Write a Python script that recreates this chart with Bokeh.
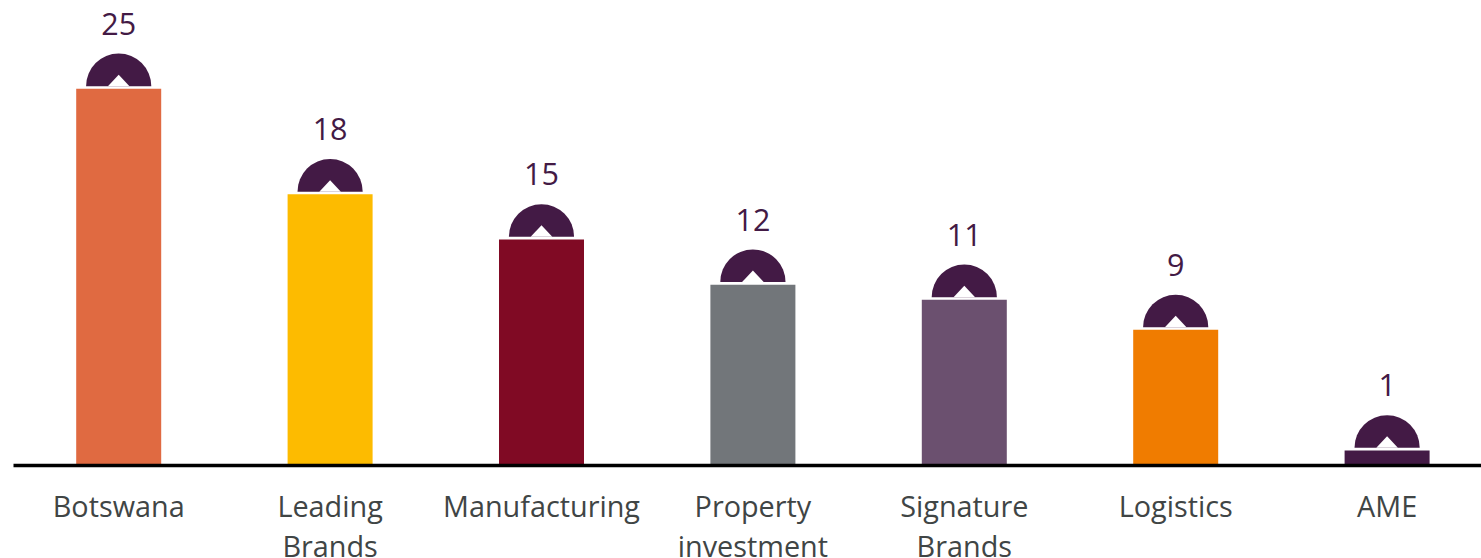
from bokeh.core.properties import value
from bokeh.embed import file_html
from bokeh.models import ColumnDataSource, Range1d
from bokeh.plotting import figure
from bokeh.resources import INLINE
import math

categories = ["Botswana", "Leading\nBrands", "Manufacturing", "Property\ninvestment",
              "Signature\nBrands", "Logistics", "AME"]
values = [25, 18, 15, 12, 11, 9, 1]
colors = ["#E06A41", "#FDBB00", "#800A24", "#72767A", "#6B506F", "#F07C00", "#431A45"]

DARK = "#431A45"
W, H = 1481, 558
PX_X, PX_Y = 211.4, 15.07       # pixels per category step / per value unit
FIRST_CENTRE = 118.2
ZERO_Y = 465                    # pixel row of value 0
AXIS_LEFT = 13

xs = list(range(len(values)))
x_start = -FIRST_CENTRE / PX_X
x_end = (W - FIRST_CENTRE) / PX_X

p = figure(width=W, height=H, output_backend="svg", toolbar_location=None,
           x_range=Range1d(x_start, x_end),
           y_range=Range1d(-(H - ZERO_Y) / PX_Y, ZERO_Y / PX_Y),
           min_border=0, outline_line_color=None, x_axis_location=None, y_axis_location=None,
           background_fill_color="white", border_fill_color="white")
p.grid.visible = False

src = ColumnDataSource(dict(x=xs, top=values, color=colors, label=[str(v) for v in values],
                            category=categories, zero=[0] * len(xs)))
p.vbar(x="x", bottom=0, top="top", width=85 / PX_X, fill_color="color", line_color=None, source=src)

# Baseline under the bars, starting just inside the left edge
p.segment(x0=[x_start + AXIS_LEFT / PX_X], y0=[0], x1=[x_end], y1=[0], line_color="black", line_width=3.5)

# Dome above each bar with a small white notch cut into its base
gap = 2.6 / PX_Y
p.wedge(x=xs, y=[v + gap for v in values], radius=32.6, radius_units="screen",
        start_angle=0, end_angle=math.pi, fill_color=DARK, line_color=None)
notch_half, notch_h = 10.8 / PX_X, 11.5 / PX_Y
p.patches(xs=[[x - notch_half, x, x + notch_half] for x in xs],
          ys=[[v + gap, v + gap + notch_h, v + gap] for v in values],
          fill_color="white", line_color=None)

p.text(x="x", y="top", text="label", source=src, y_offset=-65, text_align="center",
       text_baseline="alphabetic", text_color=DARK, text_font=value("Open Sans"),
       text_font_size="30.5px")

p.text(x="x", y="zero", text="category", source=src, y_offset=20, text_align="center",
       text_baseline="top", text_color="#404545", text_font=value("Open Sans"),
       text_font_size="28.8px", text_line_height=1.03)

open("out.html", "w").write(file_html(p, INLINE))
